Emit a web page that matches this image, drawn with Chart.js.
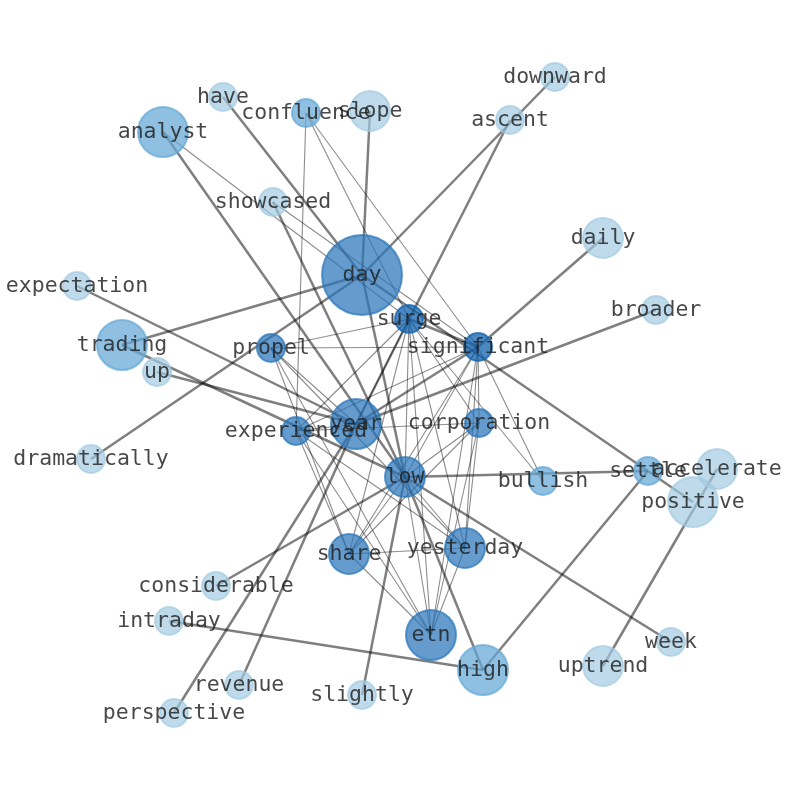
<!DOCTYPE html>
<html>
<head>
<meta charset="utf-8">
<script src="https://cdn.jsdelivr.net/npm/chart.js@4.4.1/dist/chart.umd.min.js"></script>
<style>
    html, body { margin: 0; padding: 0; background: #ffffff; }
    #wrap { width: 794px; height: 790px; }
</style>
</head>
<body>
<div id="wrap"><canvas id="grafoPalavras"></canvas></div>
<script>
// Nós do grafo (posições do layout, raio e tom de azul)
const nomes = ["day", "surge", "significant", "propel", "year", "experienced", "corporation", "low",
    "bullish", "settle", "accelerate", "positive", "share", "yesterday", "etn", "high", "week",
    "uptrend", "slightly", "revenue", "perspective", "intraday", "considerable", "dramatically",
    "up", "trading", "expectation", "analyst", "have", "confluence", "slope", "showcased",
    "downward", "ascent", "daily", "broader"];
const posX = [362, 409, 478, 271, 356, 296, 479, 405, 543, 648, 717, 693, 349, 465, 431, 483, 671,
    603, 362, 239, 174, 169, 216, 91, 157, 122, 77, 163, 223, 306, 370, 273, 555, 510, 603, 656];
const posY = [275, 319, 347, 348, 424, 431, 423, 477, 481, 471, 469, 502, 554, 548, 635, 670, 642,
    666, 695, 685, 713, 621, 586, 459, 372, 345, 286, 132, 97, 113, 111, 202, 77, 120, 238, 310];
const raios = [40, 14, 14, 14, 25, 14, 14, 20, 14, 14, 20, 25, 20, 20, 25, 25, 14,
    20, 14, 14, 14, 14, 14, 14, 14, 25, 14, 25, 14, 14, 20, 14, 14, 14, 20, 14];
// 0 = claro, 1 = médio, 2 = escuro, 3 = mais escuro
const tons = [2, 3, 3, 2, 2, 2, 2, 2, 1, 1, 0, 0, 2, 2, 2, 1, 0,
    0, 0, 0, 0, 0, 0, 0, 0, 1, 0, 1, 0, 1, 0, 0, 0, 0, 0, 0];

// Arestas: origem, destino, peso
const arestaDe = ["day", "ascent", "day", "day", "day", "day", "day", "significant", "year", "year",
    "low", "year", "analyst", "showcased", "intraday", "high", "uptrend", "low", "low", "low",
    "low", "year", "year", "low", "year", "day", "surge",
    "surge", "surge", "surge", "surge", "surge", "surge", "surge", "surge", "surge",
    "significant", "significant", "significant", "significant", "significant", "significant", "significant", "significant",
    "propel", "propel", "propel", "propel",
    "experienced", "experienced", "experienced", "experienced", "experienced",
    "corporation", "corporation", "corporation", "corporation",
    "low", "low", "low", "share", "share", "yesterday",
    "analyst", "showcased", "confluence", "confluence", "confluence"];
const arestaPara = ["downward", "year", "trading", "dramatically", "slope", "have", "positive", "daily", "broader", "expectation",
    "trading", "up", "low", "low", "high", "settle", "accelerate", "week", "settle", "considerable",
    "slightly", "perspective", "revenue", "high", "significant", "low", "significant",
    "propel", "experienced", "year", "corporation", "low", "share", "yesterday", "etn", "bullish",
    "propel", "experienced", "corporation", "low", "share", "yesterday", "etn", "bullish",
    "share", "etn", "yesterday", "year",
    "corporation", "share", "yesterday", "etn", "year",
    "low", "share", "etn", "yesterday",
    "share", "yesterday", "etn", "yesterday", "etn", "etn",
    "surge", "significant", "experienced", "surge", "significant"];
const arestaPeso = [2, 2, 2, 2, 2, 2, 2, 2, 2, 2,
    2, 2, 2, 2, 2, 2, 2, 2, 2, 2,
    2, 2, 2, 2, 2, 2, 2,
    1, 1, 1, 1, 1, 1, 1, 1, 1,
    1, 1, 1, 1, 1, 1, 1, 1,
    1, 1, 1, 1,
    1, 1, 1, 1, 1,
    1, 1, 1, 1,
    1, 1, 1, 1, 1, 1,
    1, 1, 1, 1, 1];

// Cores dos nós (com transparência, como no original)
const coresTom = [
    "rgba(160, 202, 226, 0.68)",
    "rgba(100, 168, 214, 0.72)",
    "rgba(42, 118, 186, 0.72)",
    "rgba(20, 100, 176, 0.76)"
];

function idx(nome) { return nomes.indexOf(nome); }

const datasetsArestas = arestaDe.map((de, i) => {
    const a = idx(de), b = idx(arestaPara[i]);
    const forte = arestaPeso[i] > 1;
    return {
        type: "line",
        data: [{ x: posX[a], y: posY[a] }, { x: posX[b], y: posY[b] }],
        borderColor: forte ? "rgba(0, 0, 0, 0.5)" : "rgba(0, 0, 0, 0.45)",
        borderWidth: forte ? 2.5 : 1.1,
        pointRadius: 0,
        showLine: true,
        fill: false,
        clip: false,
        order: 2
    };
});

const datasetNos = {
    type: "scatter",
    data: nomes.map((n, i) => ({ x: posX[i], y: posY[i] })),
    pointRadius: raios,
    backgroundColor: tons.map(t => coresTom[t]),
    borderColor: tons.map(t => coresTom[t]),
    borderWidth: 2,
    clip: false,
    order: 1
};

// Rótulos das palavras no centro de cada nó
const rotulosPlugin = {
    id: "rotulos",
    afterDatasetsDraw(chart) {
        const ctx = chart.ctx;
        const sx = chart.scales.x, sy = chart.scales.y;
        ctx.save();
        ctx.font = "21.5px 'DejaVu Sans Mono'";
        ctx.fillStyle = "rgba(30, 30, 30, 0.82)";
        ctx.textAlign = "center";
        ctx.textBaseline = "middle";
        nomes.forEach((n, i) => {
            ctx.fillText(n, sx.getPixelForValue(posX[i]), sy.getPixelForValue(posY[i]));
        });
        ctx.restore();
    }
};

new Chart(document.getElementById("grafoPalavras"), {
    type: "scatter",
    data: { datasets: [datasetNos].concat(datasetsArestas) },
    options: {
        responsive: true,
        maintainAspectRatio: false,
        animation: false,
        layout: { padding: 0, autoPadding: false },
        plugins: {
            legend: { display: false },
            tooltip: { enabled: false }
        },
        scales: {
            x: { type: "linear", min: 0, max: 794, display: false },
            y: { type: "linear", min: 0, max: 790, reverse: true, display: false }
        }
    },
    plugins: [rotulosPlugin]
});
</script>
</body>
</html>
